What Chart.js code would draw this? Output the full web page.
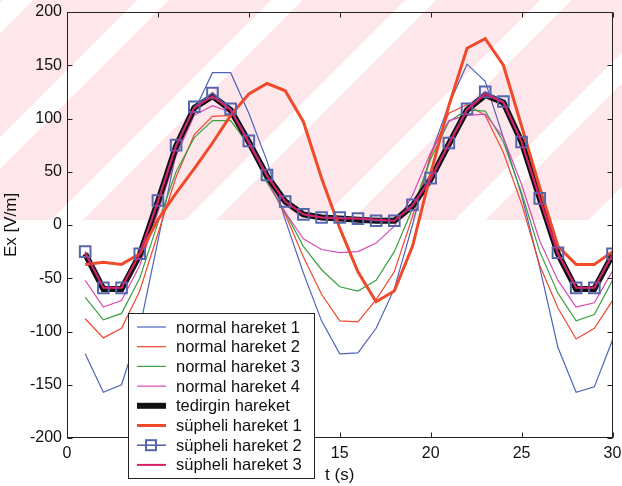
<!DOCTYPE html>
<html>
<head>
<meta charset="utf-8">
<script src="https://cdn.jsdelivr.net/npm/chart.js@4.4.1/dist/chart.umd.min.js"></script>
<style>
html, body { margin: 0; padding: 0; background: #fff; }
#wrap { position: relative; width: 622px; height: 486px; overflow: hidden; }
/* pink scan watermark behind the upper half */
#wash { position: absolute; left: 0; top: 0; width: 622px; height: 220px;
  background: repeating-linear-gradient(135deg, #fde7eb 0px, #fde7eb 2px, #ffffff 2px, #ffffff 24px, #fde7eb 24px, #fde7eb 95px); }
canvas { position: absolute; left: 0; top: 0; }
</style>
</head>
<body>
<div id="wrap">
  <div id="wash"></div>
  <canvas id="myChart" width="622" height="486"></canvas>
</div>
<script>
// time samples (s)
const tValues = [1, 2, 3, 4, 5, 6, 7, 8, 9, 10, 11, 12, 13, 14, 15, 16, 17, 18, 19, 20, 21, 22, 23, 24, 25, 26, 27, 28, 29, 30];

// Ex [V/m]
const normal1  = [-121, -157, -150, -97, -15, 68, 107, 143, 143, 105, 60, 5, -45, -90, -121, -120, -97, -60, 0, 66, 113, 151, 135, 82, 28, -40, -115, -157, -152, -108];
const normal2  = [-88, -106, -97, -62, -8, 45, 85, 102, 103, 78, 42, 10, -30, -65, -90, -91, -70, -44, 8, 65, 105, 113, 103, 68, 20, -38, -78, -107, -97, -71];
const normal3  = [-68, -89, -83, -50, 2, 50, 82, 98, 98, 75, 40, 12, -20, -42, -58, -62, -52, -25, 15, 62, 97, 108, 107, 78, 30, -25, -64, -90, -84, -52];
const normal4  = [-52, -77, -71, -38, 12, 65, 103, 112, 106, 78, 42, 12, -13, -23, -26, -25, -17, -1, 28, 68, 98, 103, 104, 82, 38, -15, -52, -77, -73, -43];
const tedirgin = [-27, -60, -60, -28, 22, 74, 110, 121, 108, 78, 46, 22, 10, 7, 6, 5, 4, 4, 18, 43, 76, 108, 122, 115, 78, 25, -27, -60, -60, -28];
const supheli1 = [-37, -35, -37, -27, 5, 30, 53, 77, 103, 123, 133, 126, 97, 44, -3, -44, -72, -62, -20, 48, 112, 166, 175, 150, 93, 35, -20, -37, -37, -25];
const supheli2 = [-25, -59, -59, -27, 23, 75, 111, 124, 109, 79, 47, 22, 10, 7, 7, 6, 4, 4, 19, 44, 77, 109, 125, 116, 78, 25, -26, -59, -59, -27];
const supheli3 = [-26, -59, -59, -27, 22, 74, 110, 121, 108, 77, 46, 22, 10, 7, 6, 6, 5, 4, 18, 43, 76, 108, 123, 115, 78, 25, -27, -59, -59, -28];

const seriesNames = ['normal hareket 1', 'normal hareket 2', 'normal hareket 3', 'normal hareket 4',
  'tedirgin hareket', 'süpheli hareket 1', 'süpheli hareket 2', 'süpheli hareket 3'];
const xTicks = [0, 5, 10, 15, 20, 25, 30];
const yTicks = [-200, -150, -100, -50, 0, 50, 100, 150, 200];

const series = [normal1, normal2, normal3, normal4, tedirgin, supheli1, supheli2, supheli3];
const lineColors = ['#4f63bb', '#f2462f', '#3c9f40', '#d84ab4', '#111111', '#ef4a2a', '#4c5ca6', '#d8206a'];
const lineWidths = [1.2, 1.2, 1.2, 1.2, 6, 3, 1.5, 2];

const FONT = '"Liberation Sans", Arial, sans-serif';

const datasets = series.map((vals, i) => ({
    label: seriesNames[i],
    data: vals.map((v, k) => ({ x: tValues[k], y: v })),
    borderColor: lineColors[i],
    borderWidth: lineWidths[i],
    backgroundColor: 'transparent',
    pointRadius: i === 6 ? 7.5 : 0,
    pointStyle: 'rect',
    pointBorderColor: '#5566ad',
    pointBorderWidth: 2,
    pointBackgroundColor: 'transparent',
    order: series.length - 1 - i,   // later series on top, like the original plot
    tension: 0
}));

// box, inward ticks on all four sides
const axesBox = {
    id: 'axesBox',
    afterDatasetsDraw(chart) {
        const { ctx, chartArea: a, scales: { x, y } } = chart;
        const L = Math.round(a.left) + 0.5, R = Math.round(a.right) - 0.5;
        const T = Math.round(a.top) + 0.5, B = Math.round(a.bottom) - 0.5;
        ctx.save();
        ctx.strokeStyle = '#222';
        ctx.lineWidth = 1;
        ctx.strokeRect(L, T, R - L, B - T);
        ctx.beginPath();
        xTicks.forEach(v => {
            const px = Math.round(x.getPixelForValue(v)) + 0.5;
            ctx.moveTo(px, B); ctx.lineTo(px, B - 5);
            ctx.moveTo(px, T); ctx.lineTo(px, T + 5);
        });
        yTicks.forEach(v => {
            const py = Math.round(y.getPixelForValue(v)) + 0.5;
            ctx.moveTo(L, py); ctx.lineTo(L + 5, py);
            ctx.moveTo(R, py); ctx.lineTo(R - 5, py);
        });
        ctx.stroke();
        ctx.restore();
    }
};

// legend box in the lower left, drawn over the axis labels like the original
const legendBox = {
    id: 'legendBox',
    afterDraw(chart) {
        const ctx = chart.ctx;
        const x0 = 128.5, y0 = 313.5, w = 186, h = 165, rowH = 19.7;
        ctx.save();
        ctx.fillStyle = '#fff';
        ctx.fillRect(x0, y0, w, h);
        ctx.strokeStyle = '#222';
        ctx.lineWidth = 1;
        ctx.strokeRect(x0, y0, w, h);
        ctx.font = '16.5px ' + FONT;
        ctx.textBaseline = 'middle';
        chart.data.datasets.forEach((ds, i) => {
            const cy = y0 + 13.5 + i * rowH;
            ctx.strokeStyle = ds.borderColor;
            ctx.lineWidth = ds.borderWidth;
            ctx.beginPath();
            ctx.moveTo(137, cy); ctx.lineTo(166, cy);
            ctx.stroke();
            if (ds.pointRadius > 0) {
                ctx.strokeStyle = ds.pointBorderColor;
                ctx.lineWidth = 2;
                ctx.strokeRect(146, cy - 5, 10, 10);
            }
            ctx.fillStyle = '#111';
            ctx.fillText(ds.label, 176, cy + 1);
        });
        ctx.restore();
    }
};

const ctx = document.getElementById('myChart').getContext('2d');
const myChart = new Chart(ctx, {
    type: 'line',
    data: { datasets: datasets },
    options: {
        responsive: false,
        animation: false,
        devicePixelRatio: 1,
        layout: { padding: { left: 0, right: 9, top: 12, bottom: 0 } },
        plugins: { legend: { display: false }, tooltip: { enabled: false } },
        scales: {
            x: {
                type: 'linear', min: 0, max: 30,
                grid: { display: false, drawTicks: false }, border: { display: false },
                afterBuildTicks: s => { s.ticks = xTicks.map(v => ({ value: v })); },
                afterFit: s => { s.height = 48; s.paddingLeft = 0; s.paddingRight = 0; },
                ticks: { padding: 6, color: '#111', font: { family: FONT, size: 16 }, maxRotation: 0, autoSkip: false },
                title: { display: true, text: 't (s)', color: '#111', font: { family: FONT, size: 17 }, padding: { top: 0, bottom: 0 } }
            },
            y: {
                type: 'linear', min: -200, max: 200,
                grid: { display: false, drawTicks: false }, border: { display: false },
                afterBuildTicks: s => { s.ticks = yTicks.map(v => ({ value: v })); },
                afterFit: s => { s.width = 67; s.paddingTop = 0; s.paddingBottom = 0; },
                ticks: { padding: 5, color: '#111', font: { family: FONT, size: 16 }, autoSkip: false },
                title: { display: true, text: 'Ex [V/m]', color: '#111', font: { family: FONT, size: 17 }, padding: { top: 1, bottom: 0 } }
            }
        }
    },
    plugins: [axesBox, legendBox]
});
</script>
</body>
</html>
